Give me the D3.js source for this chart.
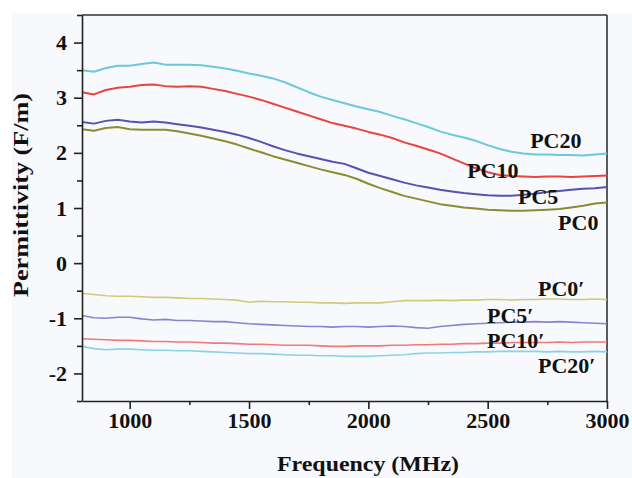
<!DOCTYPE html>
<html>
<head>
<meta charset="utf-8">
<script src="https://cdn.jsdelivr.net/npm/d3@7"></script>
<style>
  body { margin:0; background:#ffffff; }
  svg text { font-family:"Liberation Serif","Times New Roman",serif; font-weight:bold; fill:#111; }
  .axis path, .axis line { stroke:#222; stroke-width:1.6; }
  .axis text { font-size:22px; }
</style>
</head>
<body>
<svg id="chart"></svg>
<script>
// frequency (MHz)
const freq = [800,850,900,950,1000,1050,1100,1150,1200,1250,1300,1350,1400,1450,1500,1550,1600,1650,1700,1750,
  1800,1850,1900,1950,2000,2050,2100,2150,2200,2250,2300,2350,2400,2450,2500,2550,2600,2650,2700,2750,
  2800,2850,2900,2950,3000];

// permittivity (F/m)
const pc20 = [3.50,3.47,3.54,3.58,3.58,3.61,3.64,3.60,3.60,3.60,3.59,3.56,3.53,3.49,3.44,3.40,3.35,3.28,3.19,3.10,
  3.02,2.96,2.90,2.84,2.79,2.74,2.67,2.61,2.54,2.47,2.39,2.33,2.28,2.22,2.14,2.07,2.02,1.99,1.97,1.97,
  1.96,1.96,1.95,1.97,1.99];
const pc10 = [3.10,3.06,3.14,3.18,3.20,3.23,3.24,3.21,3.20,3.21,3.20,3.16,3.12,3.07,3.02,2.96,2.89,2.82,2.75,2.68,
  2.61,2.54,2.49,2.44,2.38,2.33,2.27,2.19,2.13,2.06,1.99,1.90,1.81,1.72,1.65,1.60,1.58,1.57,1.56,1.57,
  1.57,1.56,1.57,1.58,1.59];
const pc5 = [2.56,2.53,2.58,2.60,2.57,2.55,2.57,2.55,2.52,2.49,2.46,2.42,2.38,2.33,2.27,2.20,2.12,2.05,1.99,1.94,
  1.89,1.84,1.80,1.72,1.64,1.58,1.52,1.46,1.41,1.37,1.33,1.30,1.27,1.25,1.23,1.22,1.22,1.24,1.26,1.29,
  1.31,1.33,1.35,1.36,1.38];
const pc0 = [2.43,2.40,2.45,2.47,2.43,2.42,2.42,2.42,2.39,2.35,2.31,2.26,2.21,2.15,2.08,2.01,1.94,1.88,1.82,1.76,
  1.70,1.65,1.60,1.53,1.44,1.36,1.29,1.22,1.17,1.12,1.07,1.04,1.01,0.99,0.97,0.96,0.95,0.95,0.96,0.97,
  0.98,1.01,1.04,1.08,1.10];
const pc0p = [-0.55,-0.57,-0.59,-0.60,-0.60,-0.61,-0.62,-0.62,-0.63,-0.64,-0.64,-0.65,-0.66,-0.67,-0.71,-0.69,-0.70,-0.70,-0.71,-0.71,
  -0.72,-0.72,-0.73,-0.72,-0.72,-0.72,-0.70,-0.68,-0.68,-0.68,-0.67,-0.68,-0.67,-0.67,-0.66,-0.66,-0.67,-0.66,-0.66,-0.65,
  -0.65,-0.66,-0.66,-0.65,-0.66];
const pc5p = [-0.95,-0.99,-1.00,-0.98,-0.98,-1.01,-1.03,-1.02,-1.04,-1.04,-1.05,-1.06,-1.06,-1.08,-1.10,-1.11,-1.12,-1.13,-1.14,-1.15,
  -1.15,-1.16,-1.15,-1.15,-1.16,-1.15,-1.14,-1.15,-1.17,-1.18,-1.15,-1.13,-1.11,-1.10,-1.09,-1.08,-1.07,-1.07,-1.06,-1.07,
  -1.06,-1.07,-1.08,-1.09,-1.10];
const pc10p = [-1.37,-1.38,-1.39,-1.40,-1.40,-1.41,-1.42,-1.42,-1.43,-1.43,-1.44,-1.45,-1.45,-1.46,-1.47,-1.47,-1.48,-1.49,-1.49,-1.49,
  -1.50,-1.51,-1.51,-1.50,-1.50,-1.50,-1.49,-1.49,-1.48,-1.48,-1.47,-1.47,-1.46,-1.46,-1.45,-1.45,-1.44,-1.44,-1.44,-1.44,
  -1.43,-1.44,-1.43,-1.43,-1.43];
const pc20p = [-1.51,-1.55,-1.57,-1.56,-1.56,-1.57,-1.58,-1.58,-1.59,-1.59,-1.60,-1.61,-1.62,-1.63,-1.64,-1.64,-1.65,-1.66,-1.67,-1.67,
  -1.68,-1.68,-1.69,-1.69,-1.69,-1.68,-1.67,-1.66,-1.64,-1.63,-1.63,-1.62,-1.62,-1.61,-1.61,-1.60,-1.60,-1.60,-1.60,-1.61,
  -1.60,-1.61,-1.61,-1.60,-1.61];

const seriesNames  = ['PC20','PC10','PC5','PC0','PC0′','PC5′','PC10′','PC20′'];
const seriesValues = [pc20, pc10, pc5, pc0, pc0p, pc5p, pc10p, pc20p];
const seriesColors = ['#6cc8dc','#e8453c','#5552b4','#8e8a30','#d2ca7a','#8b82cf','#f07a78','#8ad3e2'];
const seriesWidths = [2, 2, 2, 2, 1.6, 1.6, 1.6, 1.6];

// label anchors (frequency, permittivity) for the in-plot names
const labelFreq = [2678, 2414, 2627, 2795, 2711, 2497, 2497, 2711];
const labelVal  = [2.09, 1.55, 1.07, 0.60, -0.60, -1.09, -1.53, -2.00];

const xMajor = [1000,1500,2000,2500,3000];
const xMinor = [1250,1750,2250,2750];
const yMajor = [-2,-1,0,1,2,3,4];
const yMinor = [-2.5,-1.5,-0.5,0.5,1.5,2.5,3.5,4.5];

const W = 632, H = 478;
const margin = { top:15, right:25, bottom:77, left:82 };
const width  = W - margin.left - margin.right;
const height = H - margin.top - margin.bottom;

const svg = d3.select('#chart').attr('width', W).attr('height', H);

svg.append('rect').attr('x', 12).attr('y', 13).attr('width', W - 12).attr('height', H - 13)
  .attr('fill', '#f7f9fc');

const chart = svg.append('g').attr('transform', `translate(${margin.left},${margin.top})`);

const x = d3.scaleLinear().domain([800, 3000]).range([0, width]);
const y = d3.scaleLinear().domain([-2.5, 4.5]).range([height, 0]);

// frame (top and right)
chart.append('line').attr('x1', 0).attr('x2', width).attr('y1', 0).attr('y2', 0)
  .attr('stroke', '#333').attr('stroke-width', 1.6);
chart.append('line').attr('x1', width).attr('x2', width).attr('y1', 0).attr('y2', height)
  .attr('stroke', '#333').attr('stroke-width', 1.6);

// lines
const line = d3.line().x((d, i) => x(freq[i])).y(d => y(d));
seriesValues.forEach((vals, k) => {
  chart.append('path')
    .datum(vals)
    .attr('fill', 'none')
    .attr('stroke', seriesColors[k])
    .attr('stroke-width', seriesWidths[k])
    .attr('stroke-linejoin', 'round')
    .attr('d', line);
});

// axes
chart.append('g').attr('class', 'axis')
  .attr('transform', `translate(0,${height})`)
  .call(d3.axisBottom(x).tickValues(xMinor).tickSize(4).tickFormat(''))
  .call(g => g.select('.domain').remove());
chart.append('g').attr('class', 'axis')
  .attr('transform', `translate(0,${height})`)
  .call(d3.axisBottom(x).tickValues(xMajor).tickSizeInner(8).tickSizeOuter(0).tickPadding(3).tickFormat(d3.format('d')));

chart.append('g').attr('class', 'axis')
  .call(d3.axisLeft(y).tickValues(yMinor).tickSize(5).tickFormat(''))
  .call(g => g.select('.domain').remove());
chart.append('g').attr('class', 'axis')
  .call(d3.axisLeft(y).tickValues(yMajor).tickSizeInner(8).tickSizeOuter(0).tickPadding(7)
    .tickFormat(d => String(d)));

// series names
chart.selectAll('.series-label')
  .data(seriesNames)
  .join('text')
  .attr('class', 'series-label')
  .attr('x', (d, i) => x(labelFreq[i]))
  .attr('y', (d, i) => y(labelVal[i]))
  .style('font-size', '22px')
  .text(d => d);

// axis titles
svg.append('text')
  .attr('x', 368).attr('y', 471)
  .attr('text-anchor', 'middle')
  .attr('textLength', 182).attr('lengthAdjust', 'spacingAndGlyphs')
  .style('font-size', '22px')
  .text('Frequency (MHz)');

svg.append('text')
  .attr('transform', 'translate(28,195) rotate(-90)')
  .attr('text-anchor', 'middle')
  .attr('textLength', 204).attr('lengthAdjust', 'spacingAndGlyphs')
  .style('font-size', '22px')
  .text('Permittivity (F/m)');
</script>
</body>
</html>
